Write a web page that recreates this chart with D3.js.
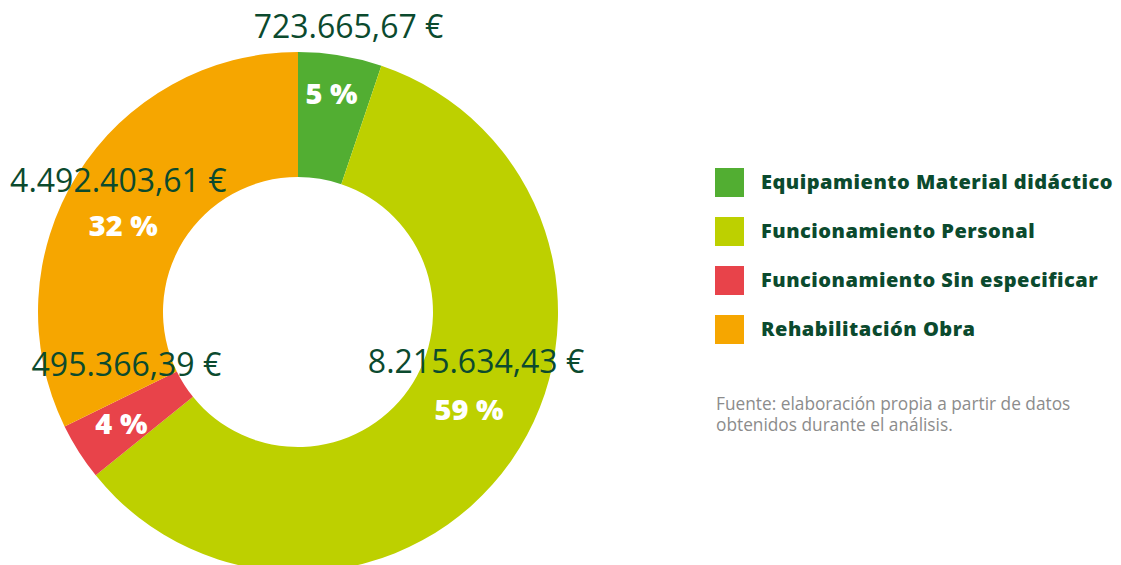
<!DOCTYPE html>
<meta charset="utf-8">
<title>Donut</title>
<style>
body {
  margin: 0px;
  background: #fff;
}
svg {
  display: block;
}
.val {
  font: 400 32px "Open Sans", sans-serif;
  fill: #0b4a2e;
  text-anchor: middle;
}
.pct {
  font: 800 29px "Open Sans", sans-serif;
  fill: #fff;
  text-anchor: middle;
}
.legend text {
  font: 800 20px "Open Sans", sans-serif;
  letter-spacing: 0.5px;
  fill: #0b4a2e;
}
.note {
  font: 400 17.3px "Open Sans", sans-serif;
  fill: #8c8c8c;
}
</style>
<script src="https://d3js.org/d3.v7.min.js"></script>
<body>
<script>

var width = 1121, height = 565;

// data
var categories = ["Equipamiento Material didáctico", "Funcionamiento Personal",
                  "Funcionamiento Sin especificar", "Rehabilitación Obra"];
var values = [723665.67, 8215634.43, 495366.39, 4492403.61];
var valueLabels = ["723.665,67 €", "8.215.634,43 €", "495.366,39 €", "4.492.403,61 €"];
var pctLabels = ["5 %", "59 %", "4 %", "32 %"];
var colors = ["#52ae32", "#bdd000", "#e8434a", "#f6a600"];
var note = ["Fuente: elaboración propia a partir de datos", "obtenidos durante el análisis."];

// label nudges (layout only), relative to the mid-angle point
var pctNudge = [[1, -11], [7, -6], [-8, 14], [-5, 30]];
var valNudge = [[17, -66], [7, -47], [5, -58], [-5, -44]];

var cx = 298, cy = 312, rOut = 260, rIn = 135, rLab = 200;

var svg = d3.select("body").append("svg")
    .attr("width", width)
    .attr("height", height);

var pie = d3.pie().sort(null).value(function(d) { return d; });
var arcs = pie(values);

var arc = d3.arc().innerRadius(rIn).outerRadius(rOut);
var labelArc = d3.arc().innerRadius(rLab).outerRadius(rLab);

var g = svg.append("g").attr("transform", "translate(" + cx + "," + cy + ")");

g.selectAll("path")
    .data(arcs)
  .enter().append("path")
    .attr("d", arc)
    .attr("fill", function(d, i) { return colors[i]; });

// percent + value labels
arcs.forEach(function(d, i) {
  var c = labelArc.centroid(d);
  var px = c[0] + pctNudge[i][0], py = c[1] + pctNudge[i][1];
  g.append("text")
      .attr("class", "pct")
      .attr("x", px)
      .attr("y", py)
      .text(pctLabels[i]);
  g.append("text")
      .attr("class", "val")
      .attr("x", px + valNudge[i][0])
      .attr("y", py + valNudge[i][1])
      .text(valueLabels[i]);
});

// legend
var legend = svg.selectAll(".legend")
    .data(categories)
  .enter().append("g")
    .attr("class", "legend")
    .attr("transform", function(d, i) { return "translate(715," + (168 + i * 49) + ")"; });

legend.append("rect")
    .attr("width", 29)
    .attr("height", 29)
    .attr("fill", function(d, i) { return colors[i]; });

legend.append("text")
    .attr("x", 46)
    .attr("y", 21)
    .text(function(d) { return d; });

// source note
svg.append("text")
    .attr("class", "note")
    .selectAll("tspan")
    .data(note)
  .enter().append("tspan")
    .attr("x", 716)
    .attr("y", function(d, i) { return 410 + i * 21; })
    .text(function(d) { return d; });

</script>
